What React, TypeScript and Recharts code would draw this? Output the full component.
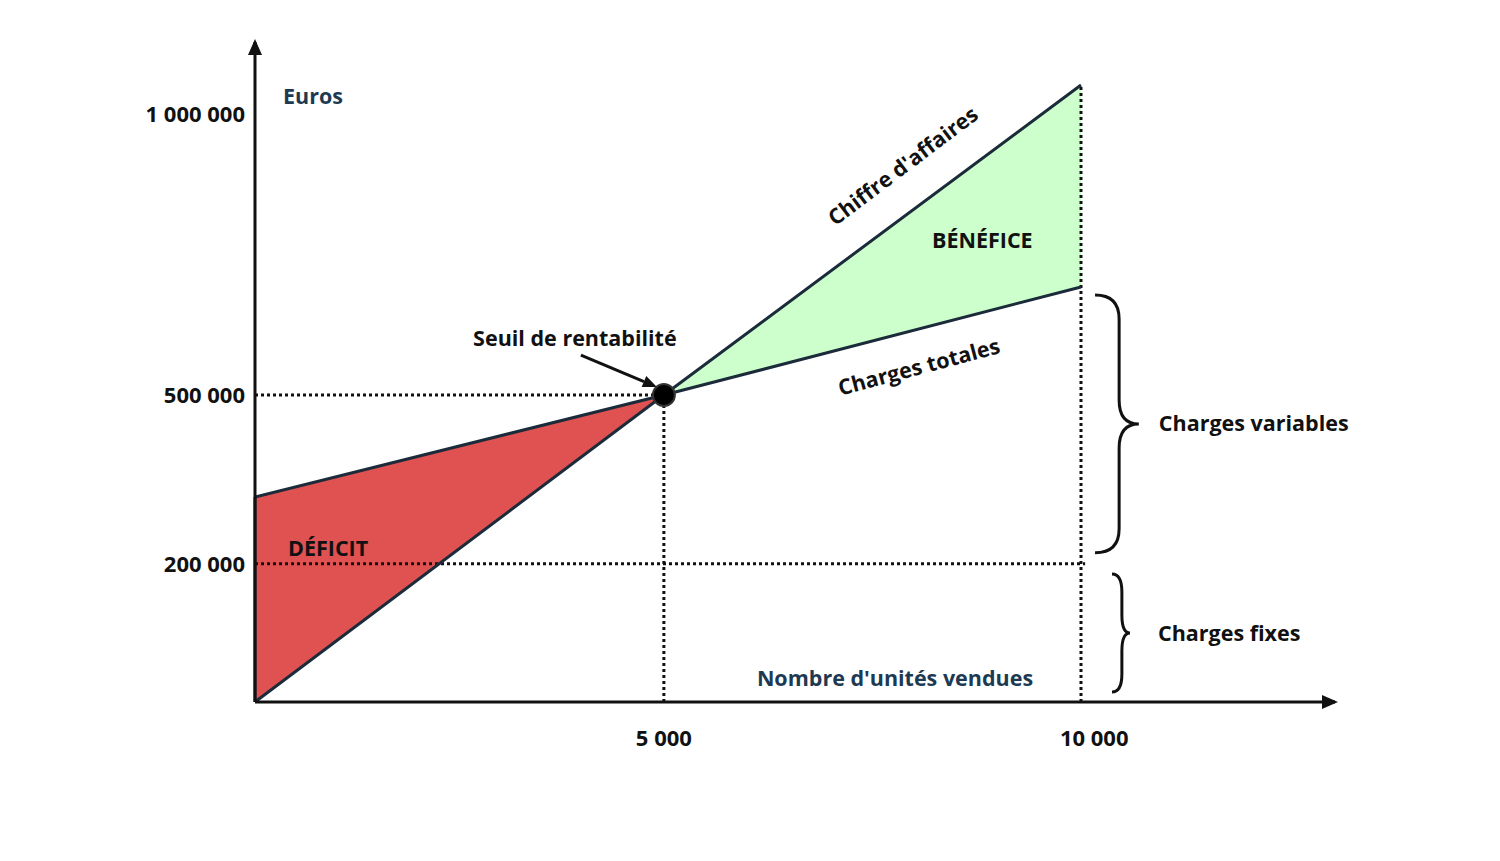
import React from 'react';
import { ComposedChart, Area, Line, XAxis, YAxis, ReferenceLine, ReferenceDot, ReferenceArea } from 'recharts';

// units sold at start, break-even and end of the drawing
const units = [0, 4950, 10000];
const revenue = [0, 500000, 1005000];
const totalCosts = [334000, 500000, 676000];
const fixedCosts = 225000;
const breakEvenUnits = 4950;
const breakEvenEuros = 500000;

const xTickValues = [4950, 10160];
const xTickLabels = ['5 000', '10 000'];
const yTickValues = [225000, 500000, 958000];
const yTickLabels = ['200 000', '500 000', '1 000 000'];

const xMax = 13075;
const yMax = 1075000;

const data = units.map((u, i) => ({
  units: u,
  revenue: revenue[i],
  cost: totalCosts[i],
  deficit: u <= breakEvenUnits ? [revenue[i], totalCosts[i]] : null,
  benefit: u >= breakEvenUnits ? [totalCosts[i], revenue[i]] : null,
}));

const FONT = "'Open Sans', sans-serif";
const SIZE = 21.5;
const INK = '#111';
const NAVY = '#1e3a52';
const EDGE = '#1b2b3a';

const XTick = (props: any) => {
  const { x, y, payload } = props;
  const i = xTickValues.indexOf(payload.value);
  return (
    <text x={x} y={y + 34} dy="0.35em" textAnchor="middle" fontFamily={FONT} fontWeight={700} fontSize={22} fill={INK}>
      {xTickLabels[i]}
    </text>
  );
};

const YTick = (props: any) => {
  const { x, y, payload } = props;
  const i = yTickValues.indexOf(payload.value);
  return (
    <text x={x} y={y} dy="0.35em" textAnchor="end" fontFamily={FONT} fontWeight={700} fontSize={22} fill={INK}>
      {yTickLabels[i]}
    </text>
  );
};

const note = (label: string, opts: { color?: string; anchor?: string; rotate?: number } = {}) => (p: any) => {
  const { cx, cy } = p;
  return (
    <text
      x={cx}
      y={cy}
      dy="0.35em"
      textAnchor={opts.anchor || 'start'}
      transform={opts.rotate ? `rotate(${opts.rotate} ${cx} ${cy})` : undefined}
      fontFamily={FONT}
      fontWeight={700}
      fontSize={SIZE}
      fill={opts.color || INK}
    >
      {label}
    </text>
  );
};

const brace = (label: string, gap: number, r: number) => (p: any) => {
  const { x, y, width, height } = p;
  const x1 = x + width;
  const xm = x + width * 0.55;
  const cy = y + height / 2;
  const yb = y + height;
  const d = `M${x},${y} Q${xm},${y} ${xm},${y + r} L${xm},${cy - r} Q${xm},${cy} ${x1},${cy} Q${xm},${cy} ${xm},${cy + r} L${xm},${yb - r} Q${xm},${yb} ${x},${yb}`;
  return (
    <g>
      <path d={d} fill="none" stroke={INK} strokeWidth={3} />
      <text x={x1 + gap} y={cy} dy="0.35em" fontFamily={FONT} fontWeight={700} fontSize={SIZE} fill={INK}>
        {label}
      </text>
    </g>
  );
};

const BreakEven = (p: any) => {
  const { cx, cy } = p;
  const sx = cx - 83, sy = cy - 40;
  const tx = cx - 7, ty = cy - 8;
  const len = Math.hypot(tx - sx, ty - sy);
  const ux = (tx - sx) / len, uy = (ty - sy) / len;
  const bx = tx - ux * 14, by = ty - uy * 14;
  return (
    <g>
      <text x={cx - 89} y={cy - 57} dy="0.35em" textAnchor="middle" fontFamily={FONT} fontWeight={700} fontSize={SIZE} fill={INK}>
        Seuil de rentabilité
      </text>
      <line x1={sx} y1={sy} x2={bx} y2={by} stroke={INK} strokeWidth={3} />
      <polygon points={`${tx},${ty} ${bx - uy * 6},${by + ux * 6} ${bx + uy * 6},${by - ux * 6}`} fill={INK} />
      <circle cx={cx} cy={cy} r={11} fill="#000" stroke="#333" strokeWidth={2} />
    </g>
  );
};

const UpArrow = (p: any) => (
  <polygon points={`${p.cx},${p.cy - 3} ${p.cx - 7},${p.cy + 13} ${p.cx + 7},${p.cy + 13}`} fill={INK} />
);
const RightArrow = (p: any) => (
  <polygon points={`${p.cx + 3},${p.cy} ${p.cx - 13},${p.cy - 7} ${p.cx - 13},${p.cy + 7}`} fill={INK} />
);

const dotted = { stroke: INK, strokeWidth: 3, strokeDasharray: '3 3' };

export default function App() {
  return (
    <div style={{ position: 'absolute', left: 0, top: 0, width: 1500, height: 861, background: '#fff' }}>
      <ComposedChart width={1500} height={861} data={data} margin={{ top: 42, right: 165, left: 195, bottom: 129 }}>
        <XAxis
          type="number"
          dataKey="units"
          domain={[0, xMax]}
          ticks={xTickValues}
          tick={<XTick />}
          tickLine={false}
          tickSize={0}
          height={30}
          axisLine={{ stroke: INK, strokeWidth: 3 }}
          allowDataOverflow
        />
        <YAxis
          type="number"
          domain={[0, yMax]}
          ticks={yTickValues}
          tick={<YTick />}
          tickLine={false}
          tickSize={0}
          tickMargin={10}
          width={60}
          axisLine={{ stroke: INK, strokeWidth: 3 }}
          allowDataOverflow
        />
        <Area type="linear" dataKey="deficit" fill="#e05252" fillOpacity={1} stroke="none" isAnimationActive={false} />
        <Area type="linear" dataKey="benefit" fill="#ccffcc" fillOpacity={1} stroke="none" isAnimationActive={false} />
        <ReferenceLine segment={[{ x: 0, y: 0 }, { x: 0, y: totalCosts[0] }]} stroke={EDGE} strokeWidth={3} />
        <ReferenceLine segment={[{ x: 0, y: breakEvenEuros }, { x: breakEvenUnits, y: breakEvenEuros }]} {...dotted} />
        <ReferenceLine segment={[{ x: breakEvenUnits, y: 0 }, { x: breakEvenUnits, y: breakEvenEuros }]} {...dotted} />
        <ReferenceLine segment={[{ x: 0, y: fixedCosts }, { x: 10050, y: fixedCosts }]} {...dotted} />
        <ReferenceLine segment={[{ x: 10000, y: 0 }, { x: 10000, y: revenue[2] }]} {...dotted} />
        <Line type="linear" dataKey="revenue" stroke={EDGE} strokeWidth={3} dot={false} activeDot={false} isAnimationActive={false} />
        <Line type="linear" dataKey="cost" stroke={EDGE} strokeWidth={3} dot={false} activeDot={false} isAnimationActive={false} />
        <ReferenceDot x={breakEvenUnits} y={breakEvenEuros} shape={BreakEven} ifOverflow="visible" />
        <ReferenceDot x={0} y={yMax} shape={UpArrow} ifOverflow="visible" />
        <ReferenceDot x={xMax} y={0} shape={RightArrow} ifOverflow="visible" />
        <ReferenceDot x={339} y={987000} shape={note('Euros', { color: NAVY })} ifOverflow="visible" />
        <ReferenceDot x={7748} y={39100} shape={note("Nombre d'unités vendues", { color: NAVY, anchor: 'middle' })} ifOverflow="visible" />
        <ReferenceDot x={400} y={250800} shape={note('DÉFICIT')} ifOverflow="visible" />
        <ReferenceDot x={8196} y={752500} shape={note('BÉNÉFICE')} ifOverflow="visible" />
        <ReferenceDot x={7845} y={873000} shape={note("Chiffre d'affaires", { anchor: 'middle', rotate: -37 })} ifOverflow="visible" />
        <ReferenceDot x={8039} y={545700} shape={note('Charges totales', { anchor: 'middle', rotate: -15 })} ifOverflow="visible" />
        <ReferenceArea x1={10170} x2={10700} y1={243000} y2={663000} shape={brace('Charges variables', 20, 24)} ifOverflow="visible" />
        <ReferenceArea x1={10375} x2={10593} y1={16300} y2={208500} shape={brace('Charges fixes', 28, 18)} ifOverflow="visible" />
      </ComposedChart>
    </div>
  );
}
